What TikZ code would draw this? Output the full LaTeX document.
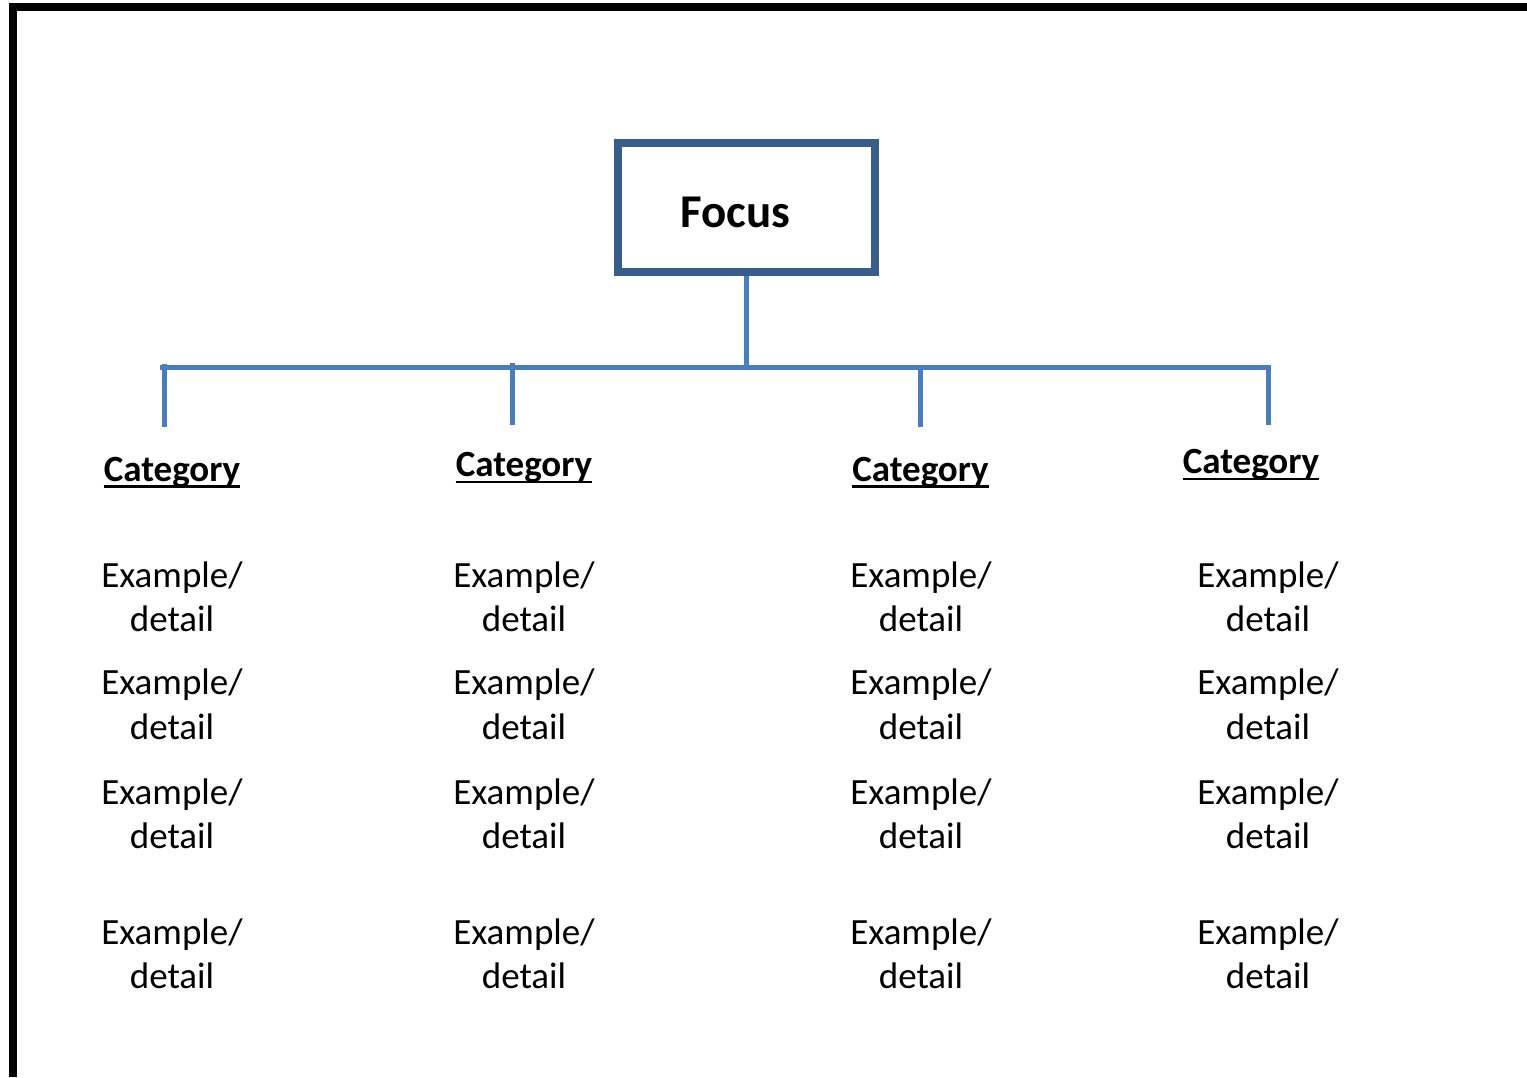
\documentclass[tikz,border=0pt]{standalone}
\usepackage{fontspec}
\setmainfont{Carlito}
\definecolor{boxblue}{HTML}{385D8A}
\definecolor{lineblue}{HTML}{4A7EBB}
\begin{document}
\begin{tikzpicture}[x=1pt,y=-1pt,
  focusbox/.style={draw=boxblue,line width=8pt,minimum width=257pt,minimum height=129pt,inner sep=0pt},
  conn/.style={draw=lineblue,line width=5pt},
  cat/.style={anchor=base,inner sep=0pt,font=\fontsize{37}{44}\selectfont\bfseries},
  ex/.style={anchor=base,inner sep=0pt,font=\fontsize{37}{44}\selectfont},
  uline/.style={line width=2.6pt}]
\useasboundingbox (0,0) rectangle (1527,1077);
% page border
\draw[line width=8pt] (13,1077) -- (13,7) -- (1527,7);
% focus
\node[focusbox] (focus) at (746.5,207.5) {};
\node[anchor=base,inner sep=0pt,font=\fontsize{47}{56}\selectfont\bfseries] (focustxt) at (735.5,227) {Focus};
% connector coordinates
\coordinate (j) at (746.5,367.5);
\coordinate (t1) at (164.5,364);
\coordinate (t2) at (512,363);
\coordinate (t3) at (920,367.5);
\coordinate (t4) at (1268.5,367.5);
\coordinate (h1) at (164.5,367.5);
\coordinate (h4) at (1268.5,367.5);
\coordinate (b1) at (164.5,427);
\coordinate (b2) at (512,425);
\coordinate (b3) at (920,427);
\coordinate (b4) at (1268.5,425);
\draw[conn] (focus.south) -- ([yshift=2.5pt]j);
\draw[conn,line cap=rect] ([xshift=-2.5pt]h1) -- (h4);
\draw[conn] (t1) -- (b1);
\draw[conn] (t2) -- (b2);
\draw[conn] (t3) -- (b3);
\draw[conn] (t4) -- (b4);
% categories
\node[cat] (c1) at (172,481) {Category};
\node[cat] (c2) at (524,476.5) {Category};
\node[cat] (c3) at (920.5,481) {Category};
\node[cat] (c4) at (1251,473.5) {Category};
\foreach \c in {c1,c2,c3,c4}{
  \draw[uline] ([yshift=-5.5pt]\c.base west) -- ([yshift=-5.5pt]\c.base east);
}
% examples
\foreach \col/\x in {1/172,2/524,3/921,4/1268}{
  \foreach \row/\ya/\yb in {1/587/631,2/694/739,3/804/848,4/944/988}{
    \node[ex] (e\col\row a) at (\x,\ya) {Example/};
    \node[ex] (e\col\row b) at (\x,\yb) {detail};
  }
}
\end{tikzpicture}
\end{document}
